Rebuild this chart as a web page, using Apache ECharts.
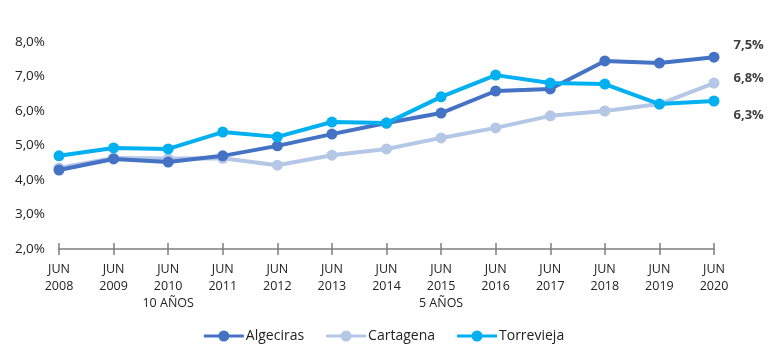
<!DOCTYPE html>
<html>
<head>
<meta charset="utf-8">
<script src="https://cdn.jsdelivr.net/npm/echarts@6/dist/echarts.min.js"></script>
<style>
  html, body { margin: 0; padding: 0; background: #fff; }
  #chart { width: 768px; height: 354px; }
</style>
</head>
<body>
<div id="chart"></div>
<script>
const years = ['2008', '2009', '2010', '2011', '2012', '2013', '2014', '2015', '2016', '2017', '2018', '2019', '2020'];
const notes = { '2010': '10 AÑOS', '2015': '5 AÑOS' };

const algeciras = [4.29, 4.61, 4.52, 4.70, 4.99, 5.33, 5.65, 5.94, 6.58, 6.64, 7.45, 7.39, 7.56];
const cartagena = [4.35, 4.64, 4.62, 4.63, 4.43, 4.72, 4.90, 5.22, 5.51, 5.86, 6.00, 6.20, 6.81];
const torrevieja = [4.70, 4.93, 4.90, 5.39, 5.25, 5.68, 5.65, 6.41, 7.04, 6.81, 6.78, 6.20, 6.29];

const endLabels = ['7,5%', '6,8%', '6,3%'];
const endOffsets = [[0, -12], [0, -5], [0, 14]];

const chart = echarts.init(document.getElementById('chart'));

function makeSeries(name, values, color, idx) {
    const last = values.length - 1;
    return {
        name: name,
        type: 'line',
        data: values.map(function (v, i) {
            if (i !== last) return v;
            return {
                value: v,
                label: {
                    show: true,
                    position: 'right',
                    distance: 14,
                    offset: endOffsets[idx],
                    formatter: endLabels[idx],
                    color: '#404040',
                    fontWeight: 'bold',
                    fontSize: 13,
                    fontFamily: 'Open Sans'
                }
            };
        }),
        symbol: 'circle',
        symbolSize: 11,
        lineStyle: { width: 4, color: color },
        itemStyle: { color: color },
        emphasis: { disabled: true },
        z: idx === 0 ? 3 : (idx === 2 ? 4 : 2)
    };
}

// line + dot legend marker
const legendIcon = 'path://M0,4 L14.6,4 L14.6,7 L0,7 Z M25.4,4 L40,4 L40,7 L25.4,7 Z ' +
    'M14.5,5.5 A5.5,5.5 0 1,1 25.5,5.5 A5.5,5.5 0 1,1 14.5,5.5 Z';

const option = {
    animation: false,
    grid: { left: 59, right: 54, top: 42, bottom: 105 },
    legend: {
        bottom: 6,
        left: 'center',
        itemWidth: 40,
        itemHeight: 11,
        itemGap: 22,
        icon: legendIcon,
        textStyle: { color: '#222', fontSize: 14, fontFamily: 'Open Sans', padding: [0, 0, 0, -3] },
        data: ['Algeciras', 'Cartagena', 'Torrevieja']
    },
    xAxis: [{
        type: 'category',
        data: years,
        boundaryGap: false,
        axisLine: { lineStyle: { color: '#7f7f7f', width: 1.5 } },
        axisTick: { show: true, length: 6, lineStyle: { color: '#7f7f7f', width: 1.5 } },
        axisLabel: {
            margin: 12,
            interval: 0,
            color: '#222',
            fontSize: 12.5,
            lineHeight: 17,
            fontFamily: 'Open Sans',
            formatter: function (v) {
                return 'JUN\n' + v + (notes[v] ? '\n' + notes[v] : '');
            }
        }
    }, {
        type: 'category',
        data: years,
        boundaryGap: false,
        position: 'bottom',
        axisLine: { show: false },
        axisTick: { show: true, inside: true, length: 6, lineStyle: { color: '#7f7f7f', width: 1.5 } },
        axisLabel: { show: false }
    }],
    yAxis: {
        type: 'value',
        min: 2,
        max: 8,
        interval: 1,
        axisLine: { show: false },
        axisTick: { show: false },
        splitLine: { show: false },
        axisLabel: {
            margin: 14,
            color: '#222',
            fontSize: 13.5,
            fontFamily: 'Open Sans',
            formatter: function (v) { return v.toFixed(1).replace('.', ',') + '%'; }
        }
    },
    series: [
        makeSeries('Algeciras', algeciras, '#4472C4', 0),
        makeSeries('Cartagena', cartagena, '#B4C7E7', 1),
        makeSeries('Torrevieja', torrevieja, '#00B0F0', 2)
    ]
};

chart.setOption(option);
</script>
</body>
</html>
